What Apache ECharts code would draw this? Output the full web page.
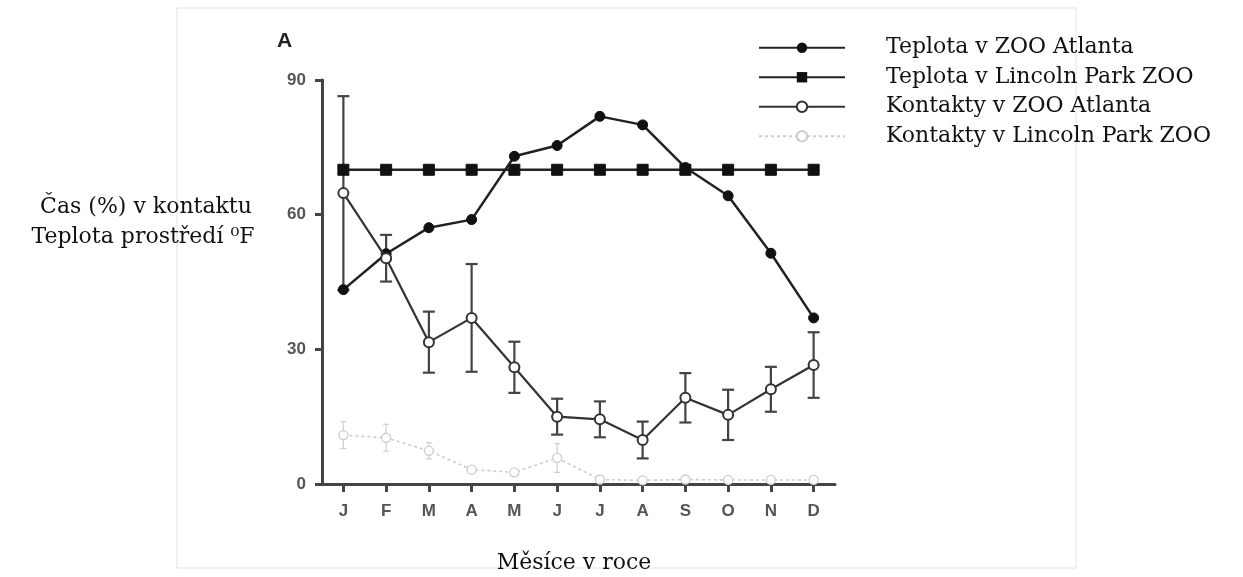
<!DOCTYPE html>
<html>
<head>
<meta charset="utf-8">
<script src="https://cdn.jsdelivr.net/npm/echarts@6/dist/echarts.min.js"></script>
<style>
html,body{margin:0;padding:0;background:#fff;}
#chart{width:1243px;height:577px;}
</style>
</head>
<body>
<div id="chart"></div>
<script>
const months = ['J','F','M','A','M','J','J','A','S','O','N','D'];
const yTicks = [0, 30, 60, 90];
const seriesNames = ['Teplota v ZOO Atlanta','Teplota v Lincoln Park ZOO','Kontakty v ZOO Atlanta','Kontakty v Lincoln Park ZOO'];
const tempAtlanta = [43.3, 51.3, 57.1, 58.9, 73.0, 75.4, 81.9, 80.0, 70.5, 64.2, 51.4, 37.0];
const tempLincoln = [70, 70, 70, 70, 70, 70, 70, 70, 70, 70, 70, 70];
const contactAtlanta = [64.8, 50.3, 31.6, 37.0, 26.0, 15.0, 14.4, 9.8, 19.2, 15.4, 21.1, 26.5];
const contactAtlantaErr = [21.6, 5.2, 6.8, 12.0, 5.7, 4.0, 4.0, 4.1, 5.5, 5.6, 5.0, 7.3];
const contactLincoln = [10.9, 10.3, 7.4, 3.2, 2.6, 5.8, 1.0, 0.8, 1.0, 0.9, 0.9, 0.9];
const contactLincolnErr = [3.0, 3.0, 1.8, 0.5, 0.8, 3.2, 0.6, 0.6, 0.8, 0.6, 0.6, 0.6];
const xAxisTitle = 'Měsíce v roce';
const yAxisTitle1 = 'Čas (%) v kontaktu';
const yAxisTitle2 = 'Teplota prostředí ⁰F';
const panelLabel = 'A';

const chart = echarts.init(document.getElementById('chart'), null, {renderer:'canvas'});

function errBars(values, errs) {
  return values.map((v, i) => [i, v - errs[i], v + errs[i]]);
}
function errRender(color, width, cap) {
  return function(params, api) {
    const lo = api.coord([api.value(0), api.value(1)]);
    const hi = api.coord([api.value(0), api.value(2)]);
    const st = {stroke: color, lineWidth: width};
    return {type:'group', children:[
      {type:'line', shape:{x1:lo[0], y1:lo[1], x2:hi[0], y2:hi[1]}, style:st},
      {type:'line', shape:{x1:lo[0]-cap, y1:lo[1], x2:lo[0]+cap, y2:lo[1]}, style:st},
      {type:'line', shape:{x1:hi[0]-cap, y1:hi[1], x2:hi[0]+cap, y2:hi[1]}, style:st}
    ]};
  };
}

const serifFont = '"DejaVu Serif", "Liberation Serif", serif';
const sansFont = '"Liberation Sans", Arial, sans-serif';

const option = {
  backgroundColor: '#ffffff',
  animation: false,
  grid: {left: 322, right: 408, top: 80, bottom: 93, containLabel: false},
  legend: {
    left: 758, top: 36, orient: 'vertical', padding: 0,
    itemWidth: 86, itemHeight: 13, itemGap: 6,
    data: seriesNames,
    textStyle: {fontFamily: serifFont, fontSize: 22, color: '#111', lineHeight: 23.5, padding: [0,0,0,36]}
  },
  xAxis: {
    type: 'category', data: months, boundaryGap: true,
    axisLine: {show: true, lineStyle: {color: '#444', width: 3}},
    axisTick: {show: true, alignWithLabel: true, length: 8, lineStyle: {color: '#444', width: 3}},
    axisLabel: {color: '#555', fontFamily: sansFont, fontWeight: 'bold', fontSize: 17, margin: 19},
    splitLine: {show: false}
  },
  yAxis: {
    type: 'value', min: 0, max: 90, interval: 30,
    axisLine: {show: true, lineStyle: {color: '#444', width: 3}},
    axisTick: {show: true, length: 7, lineStyle: {color: '#444', width: 3}},
    axisLabel: {color: '#555', fontFamily: sansFont, fontWeight: 'bold', fontSize: 17, margin: 16,
      formatter: v => yTicks.includes(v) ? String(v) : ''},
    splitLine: {show: false}
  },
  graphic: [
    {type:'rect', shape:{x:177, y:8, width:899, height:560}, style:{fill:'none', stroke:'#e4e4e4', lineWidth:1}, z:-10},
    {type:'text', left: 277, top: 31, style:{text: panelLabel, font: 'bold 21px "Liberation Sans", Arial, sans-serif', fill:'#222'}},
    {type:'text', x: 146, y: 207, style:{text: yAxisTitle1, font: '22px ' + serifFont, fill:'#111', textAlign:'center', textVerticalAlign:'middle'}},
    {type:'text', x: 143, y: 237, style:{text: yAxisTitle2, font: '22px ' + serifFont, fill:'#111', textAlign:'center', textVerticalAlign:'middle'}},
    {type:'text', x: 574, y: 563, style:{text: xAxisTitle, font: '22px ' + serifFont, fill:'#111', textAlign:'center', textVerticalAlign:'middle'}}
  ],
  series: [
    {
      name: seriesNames[0], type: 'line', data: tempAtlanta, z: 5,
      symbol: 'circle', symbolSize: 10,
      lineStyle: {color: '#222', width: 2.5},
      itemStyle: {color: '#111', borderColor: '#111'}
    },
    {
      name: seriesNames[1], type: 'line', data: tempLincoln, z: 4,
      symbol: 'rect', symbolSize: 11,
      lineStyle: {color: '#222', width: 2.5},
      itemStyle: {color: '#111', borderColor: '#111'}
    },
    {
      name: seriesNames[2], type: 'line', data: contactAtlanta, z: 6,
      symbol: 'circle', symbolSize: 10,
      lineStyle: {color: '#333', width: 2.2},
      itemStyle: {color: '#ffffff', borderColor: '#333', borderWidth: 2}
    },
    {
      name: seriesNames[3], type: 'line', data: contactLincoln, z: 3,
      symbol: 'circle', symbolSize: 9,
      lineStyle: {color: '#cdcdcd', width: 1.6, type: [3, 3]},
      itemStyle: {color: '#ffffff', borderColor: '#cdcdcd', borderWidth: 1.3}
    },
    {
      name: 'errAtlanta', type: 'custom', z: 2,
      renderItem: errRender('#444', 2.2, 6),
      data: errBars(contactAtlanta, contactAtlantaErr),
      encode: {x: 0, y: [1, 2]}
    },
    {
      name: 'errLincoln', type: 'custom', z: 1,
      renderItem: errRender('#d2d2d2', 1.3, 3),
      data: errBars(contactLincoln, contactLincolnErr),
      encode: {x: 0, y: [1, 2]}
    }
  ]
};
chart.setOption(option);
</script>
</body>
</html>
